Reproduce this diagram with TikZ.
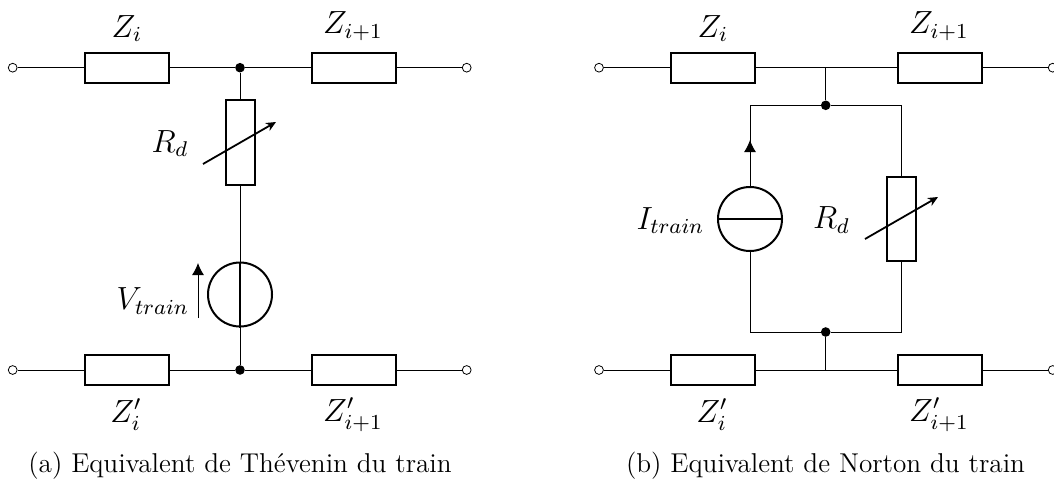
\documentclass[tikz,border=0pt]{standalone}
\usepackage{tikz}
\usetikzlibrary{arrows.meta,positioning}
\tikzstyle{impbox}=[draw,line width=1pt,minimum width=42pt,minimum height=15pt,inner sep=0pt]
\tikzstyle{varbox}=[draw,line width=1pt,minimum width=14.5pt,minimum height=42pt,inner sep=0pt]
\tikzstyle{source}=[draw,line width=1pt,circle,minimum size=32pt,inner sep=0pt]
\tikzstyle{terminal}=[draw,line width=.4pt,fill=white,circle,minimum size=4.4pt,inner sep=0pt]
\tikzstyle{junction}=[fill=black,circle,minimum size=4.8pt,inner sep=0pt]
\tikzstyle{wire}=[line width=.5pt]
\tikzstyle{curtip}=[-{Latex[length=6pt,width=6pt]}]
\tikzstyle{varrow}=[line width=.9pt,-{Stealth[length=5pt,width=4.5pt]}]
\tikzstyle{lab}=[font=\large,scale=1.335,inner sep=0pt]
\tikzstyle{legend}=[font=\large,scale=1.135,inner sep=0pt]
\begin{document}
\begin{tikzpicture}[x=.5pt,y=-.5pt]
\useasboundingbox (0,0) rectangle (1054,481);
% Thevenin
\node [terminal] (t1) at (12.7,67.7) {};
\node [impbox] (z1) at (126.5,67.7) {};
\node [junction] (j1) at (240,67.7) {};
\node [impbox] (z2) at (353.5,67.7) {};
\node [terminal] (t2) at (466.7,67.7) {};
\node [terminal] (t3) at (12.7,370) {};
\node [impbox] (z3) at (126.5,370) {};
\node [junction] (j2) at (240,370) {};
\node [impbox] (z4) at (353.5,370) {};
\node [terminal] (t4) at (466.7,370) {};
\node [varbox] (r1) at (240,142.5) {};
\node [source] (v1) at (240,294.5) {};
\coordinate (r1a) at (203,164);
\coordinate (r1b) at (276,122);
\coordinate (v1a) at (198,318);
\coordinate (v1b) at (198,263);
\draw [wire] (t1) -- (z1) (z1) -- (j1) (j1) -- (z2) (z2) -- (t2);
\draw [wire] (t3) -- (z3) (z3) -- (j2) (j2) -- (z4) (z4) -- (t4);
\draw [wire] (j1) -- (r1) (r1) -- (v1) (v1) -- (j2);
\draw [line width=1.2pt] (v1.north) -- (v1.south);
\draw [varrow] (r1a) -- (r1b);
\draw [wire,curtip] (v1a) -- (v1b);
\node [lab] at (127,28.5) {$Z_i$};
\node [lab] at (353,26) {$Z_{i+1}$};
\node [lab] at (170,143.5) {$R_d$};
\node [lab,left] at (189.5,301) {$V_{train}$};
\node [lab] at (126,414.5) {$Z'_i$};
\node [lab] at (353,414.5) {$Z'_{i+1}$};
\node [legend] (cap1) at (240,466) {(a) Equivalent de Thévenin du train};
% Norton
\node [terminal] (t5) at (599,67.7) {};
\node [impbox] (z5) at (712.5,67.7) {};
\coordinate (c1) at (825.7,67.7);
\node [impbox] (z6) at (939.5,67.7) {};
\node [terminal] (t6) at (1052.7,67.7) {};
\node [terminal] (t7) at (599,370) {};
\node [impbox] (z7) at (712.5,370) {};
\coordinate (c2) at (825.7,370);
\node [impbox] (z8) at (939.5,370) {};
\node [terminal] (t8) at (1052.7,370) {};
\node [junction] (j3) at (825.7,105.3) {};
\node [junction] (j4) at (825.7,332) {};
\node [source] (i1) at (750,219) {};
\node [varbox] (r2) at (901.5,218.5) {};
\coordinate (i1a) at (750,140);
\coordinate (r2a) at (865,239);
\coordinate (r2b) at (938,197);
\draw [wire] (t5) -- (z5) (z5) -- (c1) (c1) -- (z6) (z6) -- (t6);
\draw [wire] (t7) -- (z7) (z7) -- (c2) (c2) -- (z8) (z8) -- (t8);
\draw [wire] (c1) -- (j3) (c2) -- (j4);
\draw [wire] (i1) |- (j3) (j3) -| (r2);
\draw [wire] (i1) |- (j4) (j4) -| (r2);
\draw [wire,curtip] (i1) -- (i1a);
\draw [line width=1pt] (i1.west) -- (i1.east);
\draw [varrow] (r2a) -- (r2b);
\node [lab] at (713,28.5) {$Z_i$};
\node [lab] at (939,26) {$Z_{i+1}$};
\node [lab] at (670.5,220.5) {$I_{train}$};
\node [lab] at (831.5,220) {$R_d$};
\node [lab] at (712,414.5) {$Z'_i$};
\node [lab] at (939,414.5) {$Z'_{i+1}$};
\node [legend] (cap2) at (825.5,466) {(b) Equivalent de Norton du train};
\end{tikzpicture}
\end{document}
